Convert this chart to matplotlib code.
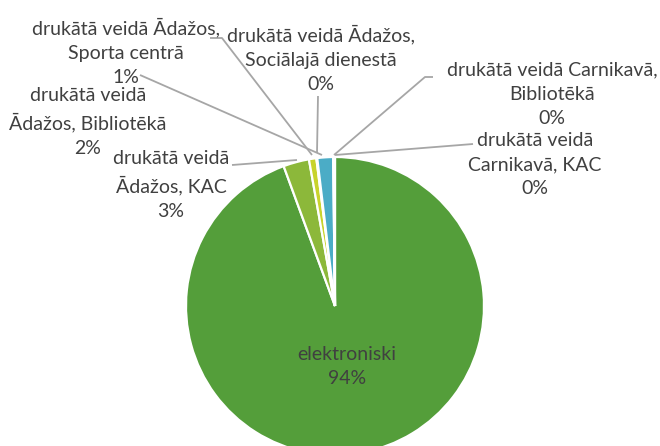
import matplotlib.pyplot as plt

labels = ['elektroniski',
          'drukātā veidā\nĀdažos, KAC',
          'drukātā veidā Ādažos,\nSporta centrā',
          'drukātā veidā Ādažos,\nSociālajā dienestā',
          'drukātā veidā\nĀdažos, Bibliotēkā',
          'drukātā veidā Carnikavā,\nBibliotēkā',
          'drukātā veidā\nCarnikavā, KAC']
values = [94.4, 2.8, 0.8, 0.1, 1.7, 0.1, 0.1]
colors = ['#549E3A', '#8CB83A', '#C8D32C', '#FFFFFF', '#4BACC6', '#FFFFFF', '#FFFFFF']

# label centres and leader lines, in pixels of the 660x446 picture
label_pos = [(347, 367), (171, 185), (126, 52), (321, 59), (88, 122), (552, 94), (535, 165)]
leaders = [None,
           [(232, 165), (297, 160)],
           [(210, 38), (222, 38), (312, 155)],
           [(318, 96), (317, 153)],
           [(140, 75), (322, 155)],
           [(433, 77), (425, 77), (334, 155)],
           [(473, 144), (335, 155)]]

CX, CY, R = 335, 306, 149
W, H = 660, 446


def px(x, y):
    return (x - CX) / R, (CY - y) / R


plt.rcParams['font.family'] = ['Lato', 'DejaVu Sans']
fig = plt.figure(figsize=(6.6, 4.46), dpi=100)
ax = fig.add_axes([0, 0, 1, 1])
ax.pie(values, colors=colors, startangle=90, counterclock=False, radius=1,
       wedgeprops=dict(edgecolor='white', linewidth=1.6))
ax.set_xlim(-CX / R, (W - CX) / R)
ax.set_ylim(-(H - CY) / R, CY / R)
ax.set_aspect('auto')
ax.axis('off')

for i in range(len(labels)):
    if leaders[i]:
        pts = [px(x, y) for x, y in leaders[i]]
        ax.plot([p[0] for p in pts], [p[1] for p in pts], color='#A6A6A6', lw=1.3,
                solid_capstyle='butt', zorder=1)
    txt = labels[i] + '\n' + str(int(round(values[i]))) + '%'
    x, y = px(*label_pos[i])
    ax.text(x, y, txt, ha='center', va='center', fontsize=14, color='#404040',
            linespacing=1.5)

fig.savefig('out.png', dpi=100)
